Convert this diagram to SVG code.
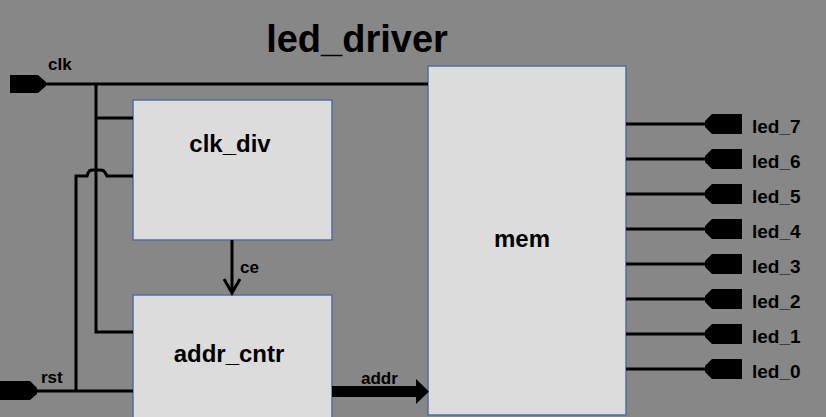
<svg xmlns="http://www.w3.org/2000/svg" width="826" height="417" viewBox="0 0 826 417">
<style>
.box{fill:#dcdcdc;stroke:#4f6f9f;stroke-width:1.5}
.wire{fill:none;stroke:#000;stroke-width:3}
.port{fill:#000}
.t{font-family:"Liberation Sans",Arial,sans-serif;font-weight:bold;fill:#000}
.lbl{font-size:24px;text-anchor:middle}
.sig{font-size:17px}
.led{font-size:19px}
</style>
<rect x="0" y="0" width="826" height="417" fill="#878787"/>
<text class="t" x="357" y="52" font-size="38" text-anchor="middle">led_driver</text>
<g id="clk_div">
<rect class="box" x="133" y="100" width="199" height="140"/>
<text class="t lbl" x="230" y="152">clk_div</text>
</g>
<g id="addr_cntr">
<rect class="box" x="133" y="295" width="199" height="130"/>
<text class="t lbl" x="229" y="362">addr_cntr</text>
</g>
<g id="mem">
<rect class="box" x="428" y="66" width="198" height="349"/>
<text class="t lbl" x="522" y="247" font-size="25">mem</text>
</g>
<g id="clk">
<polygon class="port" points="10,75 38,75 46,82 46,86 38,93 10,93"/>
<text class="t sig" x="48" y="70">clk</text>
</g>
<g id="rst">
<polygon class="port" points="0,381 30,381 37,388 37,394 30,400 0,400"/>
<text class="t sig" x="41" y="383">rst</text>
</g>
<g id="outputs">
<g id="led_7"><polygon class="port" points="742,114 712,114 705,121 705,127 712,134 742,134"/><text class="t led" x="752" y="133">led_7</text></g>
<g id="led_6"><polygon class="port" points="742,149 712,149 705,156 705,162 712,169 742,169"/><text class="t led" x="752" y="168">led_6</text></g>
<g id="led_5"><polygon class="port" points="742,184 712,184 705,191 705,197 712,204 742,204"/><text class="t led" x="752" y="203">led_5</text></g>
<g id="led_4"><polygon class="port" points="742,219 712,219 705,226 705,232 712,239 742,239"/><text class="t led" x="752" y="238">led_4</text></g>
<g id="led_3"><polygon class="port" points="742,254 712,254 705,261 705,267 712,274 742,274"/><text class="t led" x="752" y="273">led_3</text></g>
<g id="led_2"><polygon class="port" points="742,289 712,289 705,296 705,302 712,309 742,309"/><text class="t led" x="752" y="308">led_2</text></g>
<g id="led_1"><polygon class="port" points="742,324 712,324 705,331 705,337 712,344 742,344"/><text class="t led" x="752" y="343">led_1</text></g>
<g id="led_0"><polygon class="port" points="742,359 712,359 705,366 705,372 712,379 742,379"/><text class="t led" x="752" y="378">led_0</text></g>
</g>
<g id="connectors">
<path class="wire" d="M46,84 H428"/>
<path class="wire" d="M96,84 V332 H133"/>
<path class="wire" d="M96,118 H133"/>
<path class="wire" d="M37,391 H133 M76,391 V176 H87 C89,170 90,170 93,170 H100 C103,170 104,170 107,176 H133"/>
<path class="wire" d="M232,240 V292 M224,279 L232,293 L240,279"/>
<text class="t sig" x="240" y="273">ce</text>
<polygon class="port" points="332,386 416,386 416,379 429,391.5 416,404 416,397 332,397"/>
<text class="t sig" x="361" y="384" font-size="18">addr</text>
<path class="wire" d="M626,124 H706 M626,159 H706 M626,194 H706 M626,229 H706 M626,264 H706 M626,299 H706 M626,334 H706 M626,369 H706"/>
</g>
</svg>
